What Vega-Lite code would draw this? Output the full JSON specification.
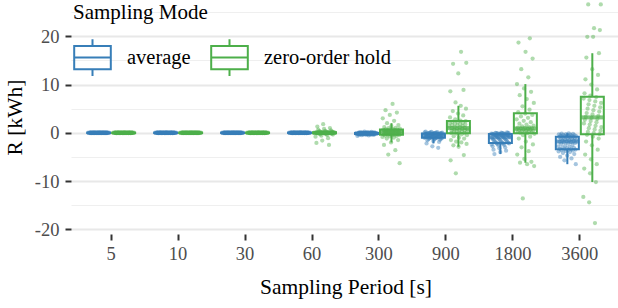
{
"$schema": "https://vega.github.io/schema/vega-lite/v6.json",
"width": 549, "height": 234,
"autosize": {"type": "none"},
"padding": {"left": 71, "top": 0, "right": 0, "bottom": 74},
"background": "white",
"config": {"font": "'Liberation Serif', 'Times New Roman', 'DejaVu Serif', serif", "view": {"stroke": null},
  "legend": {"titleFont": "'Liberation Serif', 'Times New Roman', serif", "labelFont": "'Liberation Serif', 'Times New Roman', serif"},
  "axis": {"titleFont": "'Liberation Serif', 'Times New Roman', serif", "labelFont": "'Liberation Serif', 'Times New Roman', serif"}},
"data": {"values": [
{"i":0,"p":5,"average":0.03,"zero-order hold":0.02},{"i":1,"p":5,"average":-0.05,"zero-order hold":0.06},{"i":2,"p":5,"average":0.01,"zero-order hold":-0.03},{"i":3,"p":5,"average":0.07,"zero-order hold":0},{"i":4,"p":5,"average":-0.02,"zero-order hold":0.05},{"i":5,"p":5,"average":-0.08,"zero-order hold":-0.07},{"i":6,"p":5,"average":0.04,"zero-order hold":0.01},{"i":7,"p":5,"average":0,"zero-order hold":-0.04},{"i":8,"p":5,"average":-0.04,"zero-order hold":0.08},{"i":9,"p":5,"average":0.06,"zero-order hold":-0.02},
{"i":10,"p":5,"average":-0.01,"zero-order hold":0.04},{"i":11,"p":5,"average":0.02,"zero-order hold":-0.06},{"i":12,"p":5,"average":-0.06,"zero-order hold":0.03},{"i":13,"p":5,"average":0.05,"zero-order hold":-0.01},{"i":14,"p":5,"average":-0.03,"zero-order hold":0.07},{"i":15,"p":5,"average":0.08,"zero-order hold":-0.05},{"i":16,"p":5,"average":-0.07,"zero-order hold":0},{"i":17,"p":5,"average":0.01,"zero-order hold":0.02},{"i":18,"p":5,"average":0.03,"zero-order hold":-0.08},{"i":19,"p":5,"average":-0.02,"zero-order hold":0.05},
{"i":20,"p":5,"average":0.05,"zero-order hold":-0.03},{"i":21,"p":5,"average":-0.04,"zero-order hold":0.06},{"i":22,"p":5,"average":0,"zero-order hold":-0.02},{"i":23,"p":5,"average":0.06,"zero-order hold":0.01},{"i":24,"p":5,"average":-0.06,"zero-order hold":0.04},{"i":25,"p":5,"average":0.02,"zero-order hold":-0.06},{"i":26,"p":5,"average":-0.01,"zero-order hold":0.03},{"i":27,"p":5,"average":0.04,"zero-order hold":-0.04},{"i":28,"p":5,"average":-0.08,"zero-order hold":0.07},{"i":29,"p":5,"average":0.07,"zero-order hold":0},
{"i":30,"p":5,"average":-0.03,"zero-order hold":-0.05},{"i":31,"p":5,"average":0.01,"zero-order hold":0.02},{"i":32,"p":5,"average":0.05,"zero-order hold":-0.01},{"i":33,"p":5,"average":-0.05,"zero-order hold":0.08},{"i":34,"p":5,"average":0.03,"zero-order hold":-0.07},{"i":35,"p":5,"average":-0.02,"zero-order hold":0.03},{"i":36,"p":5,"average":0.08,"zero-order hold":0.05},{"i":37,"p":5,"average":-0.07,"zero-order hold":-0.02},{"i":38,"p":5,"average":0,"zero-order hold":0.01},{"i":39,"p":5,"average":0.02,"zero-order hold":-0.06},
{"i":40,"p":5,"average":-0.04,"zero-order hold":0.04},{"i":41,"p":5,"average":0.06,"zero-order hold":-0.03},{"i":42,"p":5,"average":-0.01,"zero-order hold":0.06},{"i":43,"p":5,"average":0.04,"zero-order hold":0},{"i":44,"p":5,"average":-0.06,"zero-order hold":-0.04},{"i":45,"p":5,"average":0.03,"zero-order hold":0.02},{"i":46,"p":5,"average":-0.03,"zero-order hold":-0.08},{"i":47,"p":5,"average":0.07,"zero-order hold":0.07},{"i":48,"p":5,"average":-0.05,"zero-order hold":-0.01},{"i":49,"p":5,"average":0.01,"zero-order hold":0.05},
{"i":50,"p":5,"average":0.05,"zero-order hold":0.03},{"i":51,"p":5,"average":-0.08,"zero-order hold":-0.05},{"i":52,"p":5,"average":0.02,"zero-order hold":0.01},{"i":53,"p":5,"average":-0.02,"zero-order hold":-0.07},{"i":54,"p":5,"average":0.06,"zero-order hold":0.04},{"i":55,"p":5,"average":0,"zero-order hold":-0.02},{"i":56,"p":5,"average":-0.07,"zero-order hold":0.06},{"i":57,"p":5,"average":0.04,"zero-order hold":0},{"i":58,"p":5,"average":-0.01,"zero-order hold":-0.03},{"i":59,"p":5,"average":0.03,"zero-order hold":0.02},

{"i":0,"p":10,"average":0.02,"zero-order hold":0.03},{"i":1,"p":10,"average":0.06,"zero-order hold":-0.05},{"i":2,"p":10,"average":-0.03,"zero-order hold":0.01},{"i":3,"p":10,"average":0,"zero-order hold":0.07},{"i":4,"p":10,"average":0.05,"zero-order hold":-0.02},{"i":5,"p":10,"average":-0.07,"zero-order hold":-0.08},{"i":6,"p":10,"average":0.01,"zero-order hold":0.04},{"i":7,"p":10,"average":-0.04,"zero-order hold":0},{"i":8,"p":10,"average":0.08,"zero-order hold":-0.04},{"i":9,"p":10,"average":-0.02,"zero-order hold":0.06},
{"i":10,"p":10,"average":0.04,"zero-order hold":-0.01},{"i":11,"p":10,"average":-0.06,"zero-order hold":0.02},{"i":12,"p":10,"average":0.03,"zero-order hold":-0.06},{"i":13,"p":10,"average":-0.01,"zero-order hold":0.05},{"i":14,"p":10,"average":0.07,"zero-order hold":-0.03},{"i":15,"p":10,"average":-0.05,"zero-order hold":0.08},{"i":16,"p":10,"average":0,"zero-order hold":-0.07},{"i":17,"p":10,"average":0.02,"zero-order hold":0.01},{"i":18,"p":10,"average":-0.08,"zero-order hold":0.03},{"i":19,"p":10,"average":0.05,"zero-order hold":-0.02},
{"i":20,"p":10,"average":-0.03,"zero-order hold":0.05},{"i":21,"p":10,"average":0.06,"zero-order hold":-0.04},{"i":22,"p":10,"average":-0.02,"zero-order hold":0},{"i":23,"p":10,"average":0.01,"zero-order hold":0.06},{"i":24,"p":10,"average":0.04,"zero-order hold":-0.06},{"i":25,"p":10,"average":-0.06,"zero-order hold":0.02},{"i":26,"p":10,"average":0.03,"zero-order hold":-0.01},{"i":27,"p":10,"average":-0.04,"zero-order hold":0.04},{"i":28,"p":10,"average":0.07,"zero-order hold":-0.08},{"i":29,"p":10,"average":0,"zero-order hold":0.07},
{"i":30,"p":10,"average":-0.05,"zero-order hold":-0.03},{"i":31,"p":10,"average":0.02,"zero-order hold":0.01},{"i":32,"p":10,"average":-0.01,"zero-order hold":0.05},{"i":33,"p":10,"average":0.08,"zero-order hold":-0.05},{"i":34,"p":10,"average":-0.07,"zero-order hold":0.03},{"i":35,"p":10,"average":0.03,"zero-order hold":-0.02},{"i":36,"p":10,"average":0.05,"zero-order hold":0.08},{"i":37,"p":10,"average":-0.02,"zero-order hold":-0.07},{"i":38,"p":10,"average":0.01,"zero-order hold":0},{"i":39,"p":10,"average":-0.06,"zero-order hold":0.02},
{"i":40,"p":10,"average":0.04,"zero-order hold":-0.04},{"i":41,"p":10,"average":-0.03,"zero-order hold":0.06},{"i":42,"p":10,"average":0.06,"zero-order hold":-0.01},{"i":43,"p":10,"average":0,"zero-order hold":0.04},{"i":44,"p":10,"average":-0.04,"zero-order hold":-0.06},{"i":45,"p":10,"average":0.02,"zero-order hold":0.03},{"i":46,"p":10,"average":-0.08,"zero-order hold":-0.03},{"i":47,"p":10,"average":0.07,"zero-order hold":0.07},{"i":48,"p":10,"average":-0.01,"zero-order hold":-0.05},{"i":49,"p":10,"average":0.05,"zero-order hold":0.01},
{"i":50,"p":10,"average":0.03,"zero-order hold":0.05},{"i":51,"p":10,"average":-0.05,"zero-order hold":-0.08},{"i":52,"p":10,"average":0.01,"zero-order hold":0.02},{"i":53,"p":10,"average":-0.07,"zero-order hold":-0.02},{"i":54,"p":10,"average":0.04,"zero-order hold":0.06},{"i":55,"p":10,"average":-0.02,"zero-order hold":0},{"i":56,"p":10,"average":0.06,"zero-order hold":-0.07},{"i":57,"p":10,"average":0,"zero-order hold":0.04},{"i":58,"p":10,"average":-0.03,"zero-order hold":-0.01},{"i":59,"p":10,"average":0.02,"zero-order hold":0.03},

{"i":0,"p":30,"average":0.03,"zero-order hold":0.02},{"i":1,"p":30,"average":-0.05,"zero-order hold":0.06},{"i":2,"p":30,"average":0.01,"zero-order hold":-0.03},{"i":3,"p":30,"average":0.07,"zero-order hold":0},{"i":4,"p":30,"average":-0.02,"zero-order hold":0.05},{"i":5,"p":30,"average":-0.08,"zero-order hold":-0.07},{"i":6,"p":30,"average":0.04,"zero-order hold":0.01},{"i":7,"p":30,"average":0,"zero-order hold":-0.04},{"i":8,"p":30,"average":-0.04,"zero-order hold":0.08},{"i":9,"p":30,"average":0.06,"zero-order hold":-0.02},
{"i":10,"p":30,"average":-0.01,"zero-order hold":0.04},{"i":11,"p":30,"average":0.02,"zero-order hold":-0.06},{"i":12,"p":30,"average":-0.06,"zero-order hold":0.03},{"i":13,"p":30,"average":0.05,"zero-order hold":-0.01},{"i":14,"p":30,"average":-0.03,"zero-order hold":0.07},{"i":15,"p":30,"average":0.08,"zero-order hold":-0.05},{"i":16,"p":30,"average":-0.07,"zero-order hold":0},{"i":17,"p":30,"average":0.01,"zero-order hold":0.02},{"i":18,"p":30,"average":0.03,"zero-order hold":-0.08},{"i":19,"p":30,"average":-0.02,"zero-order hold":0.05},
{"i":20,"p":30,"average":0.05,"zero-order hold":-0.03},{"i":21,"p":30,"average":-0.04,"zero-order hold":0.06},{"i":22,"p":30,"average":0,"zero-order hold":-0.02},{"i":23,"p":30,"average":0.06,"zero-order hold":0.01},{"i":24,"p":30,"average":-0.06,"zero-order hold":0.04},{"i":25,"p":30,"average":0.02,"zero-order hold":-0.06},{"i":26,"p":30,"average":-0.01,"zero-order hold":0.03},{"i":27,"p":30,"average":0.04,"zero-order hold":-0.04},{"i":28,"p":30,"average":-0.08,"zero-order hold":0.07},{"i":29,"p":30,"average":0.07,"zero-order hold":0},
{"i":30,"p":30,"average":-0.03,"zero-order hold":-0.05},{"i":31,"p":30,"average":0.01,"zero-order hold":0.02},{"i":32,"p":30,"average":0.05,"zero-order hold":-0.01},{"i":33,"p":30,"average":-0.05,"zero-order hold":0.08},{"i":34,"p":30,"average":0.03,"zero-order hold":-0.07},{"i":35,"p":30,"average":-0.02,"zero-order hold":0.03},{"i":36,"p":30,"average":0.08,"zero-order hold":0.05},{"i":37,"p":30,"average":-0.07,"zero-order hold":-0.02},{"i":38,"p":30,"average":0,"zero-order hold":0.01},{"i":39,"p":30,"average":0.02,"zero-order hold":-0.06},
{"i":40,"p":30,"average":-0.04,"zero-order hold":0.04},{"i":41,"p":30,"average":0.06,"zero-order hold":-0.03},{"i":42,"p":30,"average":-0.01,"zero-order hold":0.06},{"i":43,"p":30,"average":0.04,"zero-order hold":0},{"i":44,"p":30,"average":-0.06,"zero-order hold":-0.04},{"i":45,"p":30,"average":0.03,"zero-order hold":0.02},{"i":46,"p":30,"average":-0.03,"zero-order hold":-0.08},{"i":47,"p":30,"average":0.07,"zero-order hold":0.07},{"i":48,"p":30,"average":-0.05,"zero-order hold":-0.01},{"i":49,"p":30,"average":0.01,"zero-order hold":0.05},
{"i":50,"p":30,"average":0.05,"zero-order hold":0.03},{"i":51,"p":30,"average":-0.08,"zero-order hold":-0.05},{"i":52,"p":30,"average":0.02,"zero-order hold":0.01},{"i":53,"p":30,"average":-0.02,"zero-order hold":-0.07},{"i":54,"p":30,"average":0.06,"zero-order hold":0.04},{"i":55,"p":30,"average":0,"zero-order hold":-0.02},{"i":56,"p":30,"average":-0.07,"zero-order hold":0.06},{"i":57,"p":30,"average":0.04,"zero-order hold":0},{"i":58,"p":30,"average":-0.01,"zero-order hold":-0.03},{"i":59,"p":30,"average":0.03,"zero-order hold":0.02},

{"i":0,"p":60,"average":0.02,"zero-order hold":-0.8},{"i":1,"p":60,"average":0.06,"zero-order hold":-0.02},{"i":2,"p":60,"average":-0.03,"zero-order hold":0.1},{"i":3,"p":60,"average":0,"zero-order hold":-2.1},{"i":4,"p":60,"average":0.05,"zero-order hold":-0.04},{"i":5,"p":60,"average":-0.07,"zero-order hold":0.07},{"i":6,"p":60,"average":0.01,"zero-order hold":1.3},{"i":7,"p":60,"average":-0.04,"zero-order hold":-0.07},{"i":8,"p":60,"average":0.08,"zero-order hold":0.04},{"i":9,"p":60,"average":-0.02,"zero-order hold":0.65},
{"i":10,"p":60,"average":0.04,"zero-order hold":-0.1},{"i":11,"p":60,"average":-0.06,"zero-order hold":0.02},{"i":12,"p":60,"average":0.03,"zero-order hold":0.35},{"i":13,"p":60,"average":-0.01,"zero-order hold":-0.18},{"i":14,"p":60,"average":0.07,"zero-order hold":0.01},{"i":15,"p":60,"average":-0.05,"zero-order hold":0.23},{"i":16,"p":60,"average":0,"zero-order hold":-0.3},{"i":17,"p":60,"average":0.02,"zero-order hold":0},{"i":18,"p":60,"average":-0.08,"zero-order hold":0.16},{"i":19,"p":60,"average":0.05,"zero-order hold":-0.6},
{"i":20,"p":60,"average":-0.03,"zero-order hold":-0.02},{"i":21,"p":60,"average":0.06,"zero-order hold":0.11},{"i":22,"p":60,"average":-0.02,"zero-order hold":-1.6},{"i":23,"p":60,"average":0.01,"zero-order hold":-0.03},{"i":24,"p":60,"average":0.04,"zero-order hold":0.08},{"i":25,"p":60,"average":-0.06,"zero-order hold":1.8},{"i":26,"p":60,"average":0.03,"zero-order hold":-0.06},{"i":27,"p":60,"average":-0.04,"zero-order hold":0.05},{"i":28,"p":60,"average":0.07,"zero-order hold":0.8},{"i":29,"p":60,"average":0,"zero-order hold":-0.09},
{"i":30,"p":60,"average":-0.05,"zero-order hold":0.03},{"i":31,"p":60,"average":0.02,"zero-order hold":0.4},{"i":32,"p":60,"average":-0.01,"zero-order hold":-0.15},{"i":33,"p":60,"average":0.08,"zero-order hold":0.01},{"i":34,"p":60,"average":-0.07,"zero-order hold":0.26},{"i":35,"p":60,"average":0.03,"zero-order hold":-0.25},{"i":36,"p":60,"average":0.05,"zero-order hold":0},{"i":37,"p":60,"average":-0.02,"zero-order hold":0.18},{"i":38,"p":60,"average":0.01,"zero-order hold":-0.45},{"i":39,"p":60,"average":-0.06,"zero-order hold":-0.01},
{"i":40,"p":60,"average":0.04,"zero-order hold":0.12},{"i":41,"p":60,"average":-0.03,"zero-order hold":-1.1},{"i":42,"p":60,"average":0.06,"zero-order hold":-0.03},{"i":43,"p":60,"average":0,"zero-order hold":0.09},{"i":44,"p":60,"average":-0.04,"zero-order hold":-2.5},{"i":45,"p":60,"average":0.02,"zero-order hold":-0.05},{"i":46,"p":60,"average":-0.08,"zero-order hold":0.06},{"i":47,"p":60,"average":0.07,"zero-order hold":1.0},{"i":48,"p":60,"average":-0.01,"zero-order hold":-0.08},{"i":49,"p":60,"average":0.05,"zero-order hold":0.03},
{"i":50,"p":60,"average":0.03,"zero-order hold":0.5},{"i":51,"p":60,"average":-0.05,"zero-order hold":-0.12},{"i":52,"p":60,"average":0.01,"zero-order hold":0.02},{"i":53,"p":60,"average":-0.07,"zero-order hold":0.3},{"i":54,"p":60,"average":0.04,"zero-order hold":-0.2},{"i":55,"p":60,"average":-0.02,"zero-order hold":0},{"i":56,"p":60,"average":0.06,"zero-order hold":0.2},{"i":57,"p":60,"average":0,"zero-order hold":-0.35},{"i":58,"p":60,"average":-0.03,"zero-order hold":-0.01},{"i":59,"p":60,"average":0.02,"zero-order hold":0.14},

{"i":0,"p":300,"average":-0.65,"zero-order hold":-0.85},{"i":1,"p":300,"average":-0.27,"zero-order hold":3.0},{"i":2,"p":300,"average":-0.15,"zero-order hold":0.63},{"i":3,"p":300,"average":-0.05,"zero-order hold":0.12},{"i":4,"p":300,"average":0.06,"zero-order hold":-0.35},{"i":5,"p":300,"average":-0.4,"zero-order hold":-2.5},{"i":6,"p":300,"average":-0.22,"zero-order hold":1.2},{"i":7,"p":300,"average":-0.13,"zero-order hold":0.44},{"i":8,"p":300,"average":-0.02,"zero-order hold":-0.03},{"i":9,"p":300,"average":0.16,"zero-order hold":-0.58},
{"i":10,"p":300,"average":-0.3,"zero-order hold":4.7},{"i":11,"p":300,"average":-0.17,"zero-order hold":0.72},{"i":12,"p":300,"average":-0.08,"zero-order hold":0.24},{"i":13,"p":300,"average":0.03,"zero-order hold":-0.23},{"i":14,"p":300,"average":-0.5,"zero-order hold":-1.2},{"i":15,"p":300,"average":-0.25,"zero-order hold":2.0},{"i":16,"p":300,"average":-0.14,"zero-order hold":0.56},{"i":17,"p":300,"average":-0.04,"zero-order hold":0.06},{"i":18,"p":300,"average":0.1,"zero-order hold":-0.41},{"i":19,"p":300,"average":-0.35,"zero-order hold":-4.5},
{"i":20,"p":300,"average":-0.2,"zero-order hold":0.95},{"i":21,"p":300,"average":-0.11,"zero-order hold":0.36},{"i":22,"p":300,"average":0,"zero-order hold":-0.11},{"i":23,"p":300,"average":0.25,"zero-order hold":-0.75},{"i":24,"p":300,"average":-0.28,"zero-order hold":3.7},{"i":25,"p":300,"average":-0.16,"zero-order hold":0.66},{"i":26,"p":300,"average":-0.06,"zero-order hold":0.16},{"i":27,"p":300,"average":0.05,"zero-order hold":-0.31},{"i":28,"p":300,"average":-0.42,"zero-order hold":-2.0},{"i":29,"p":300,"average":-0.23,"zero-order hold":1.4},
{"i":30,"p":300,"average":-0.13,"zero-order hold":0.48},{"i":31,"p":300,"average":-0.03,"zero-order hold":0},{"i":32,"p":300,"average":0.14,"zero-order hold":-0.5},{"i":33,"p":300,"average":-0.31,"zero-order hold":6.0},{"i":34,"p":300,"average":-0.18,"zero-order hold":0.78},{"i":35,"p":300,"average":-0.09,"zero-order hold":0.28},{"i":36,"p":300,"average":0.02,"zero-order hold":-0.19},{"i":37,"p":300,"average":-0.55,"zero-order hold":-1.0},{"i":38,"p":300,"average":-0.26,"zero-order hold":2.5},{"i":39,"p":300,"average":-0.15,"zero-order hold":0.6},
{"i":40,"p":300,"average":-0.05,"zero-order hold":0.09},{"i":41,"p":300,"average":0.08,"zero-order hold":-0.39},{"i":42,"p":300,"average":-0.38,"zero-order hold":-3.6},{"i":43,"p":300,"average":-0.21,"zero-order hold":1.05},{"i":44,"p":300,"average":-0.12,"zero-order hold":0.4},{"i":45,"p":300,"average":-0.01,"zero-order hold":-0.07},{"i":46,"p":300,"average":0.2,"zero-order hold":-0.65},{"i":47,"p":300,"average":-0.29,"zero-order hold":4.2},{"i":48,"p":300,"average":-0.16,"zero-order hold":0.69},{"i":49,"p":300,"average":-0.07,"zero-order hold":0.2},
{"i":50,"p":300,"average":0.04,"zero-order hold":-0.27},{"i":51,"p":300,"average":-0.45,"zero-order hold":-1.5},{"i":52,"p":300,"average":-0.24,"zero-order hold":1.6},{"i":53,"p":300,"average":-0.14,"zero-order hold":0.52},{"i":54,"p":300,"average":-0.04,"zero-order hold":0.03},{"i":55,"p":300,"average":0.12,"zero-order hold":-0.45},{"i":56,"p":300,"average":-0.33,"zero-order hold":-6.3},{"i":57,"p":300,"average":-0.19,"zero-order hold":0.85},{"i":58,"p":300,"average":-0.1,"zero-order hold":0.32},{"i":59,"p":300,"average":0.01,"zero-order hold":-0.15},

{"i":0,"p":900,"average":-1.04,"zero-order hold":1.3},{"i":1,"p":900,"average":0.1,"zero-order hold":2.0},{"i":2,"p":900,"average":-0.32,"zero-order hold":3.2},{"i":3,"p":900,"average":-0.94,"zero-order hold":8.6},{"i":4,"p":900,"average":0.25,"zero-order hold":-5.7},{"i":5,"p":900,"average":-0.24,"zero-order hold":-1.5},{"i":6,"p":900,"average":-0.84,"zero-order hold":-0.05},{"i":7,"p":900,"average":-2.2,"zero-order hold":0.47},{"i":8,"p":900,"average":-0.18,"zero-order hold":0.92},{"i":9,"p":900,"average":-0.74,"zero-order hold":1.6},
{"i":10,"p":900,"average":-1.55,"zero-order hold":2.3},{"i":11,"p":900,"average":-0.12,"zero-order hold":4.5},{"i":12,"p":900,"average":-0.64,"zero-order hold":14.3},{"i":13,"p":900,"average":-1.3,"zero-order hold":-2.6},{"i":14,"p":900,"average":-0.06,"zero-order hold":-0.7},{"i":15,"p":900,"average":-0.54,"zero-order hold":0.16},{"i":16,"p":900,"average":-1.15,"zero-order hold":0.66},{"i":17,"p":900,"average":0,"zero-order hold":1.2},{"i":18,"p":900,"average":-0.44,"zero-order hold":1.9},{"i":19,"p":900,"average":-1.06,"zero-order hold":2.8},
{"i":20,"p":900,"average":0.08,"zero-order hold":6.3},{"i":21,"p":900,"average":-0.35,"zero-order hold":-8.4},{"i":22,"p":900,"average":-0.97,"zero-order hold":-1.8},{"i":23,"p":900,"average":0.18,"zero-order hold":-0.15},{"i":24,"p":900,"average":-0.26,"zero-order hold":0.4},{"i":25,"p":900,"average":-0.87,"zero-order hold":0.84},{"i":26,"p":900,"average":-2.8,"zero-order hold":1.5},{"i":27,"p":900,"average":-0.2,"zero-order hold":2.2},{"i":28,"p":900,"average":-0.77,"zero-order hold":4.0},{"i":29,"p":900,"average":-1.7,"zero-order hold":12.3},
{"i":30,"p":900,"average":-0.14,"zero-order hold":-2.9},{"i":31,"p":900,"average":-0.67,"zero-order hold":-1.0},{"i":32,"p":900,"average":-1.35,"zero-order hold":0.08},{"i":33,"p":900,"average":-0.08,"zero-order hold":0.6},{"i":34,"p":900,"average":-0.57,"zero-order hold":1.12},{"i":35,"p":900,"average":-1.2,"zero-order hold":1.8},{"i":36,"p":900,"average":-0.02,"zero-order hold":2.55},{"i":37,"p":900,"average":-0.47,"zero-order hold":5.6},{"i":38,"p":900,"average":-1.09,"zero-order hold":16.8},{"i":39,"p":900,"average":0.05,"zero-order hold":-2.0},
{"i":40,"p":900,"average":-0.38,"zero-order hold":-0.3},{"i":41,"p":900,"average":-1.0,"zero-order hold":0.32},{"i":42,"p":900,"average":0.14,"zero-order hold":0.78},{"i":43,"p":900,"average":-0.29,"zero-order hold":1.4},{"i":44,"p":900,"average":-0.9,"zero-order hold":2.1},{"i":45,"p":900,"average":-3.1,"zero-order hold":3.6},{"i":46,"p":900,"average":-0.22,"zero-order hold":8.9},{"i":47,"p":900,"average":-0.8,"zero-order hold":-4.6},{"i":48,"p":900,"average":-1.9,"zero-order hold":-1.2},{"i":49,"p":900,"average":-0.16,"zero-order hold":0},
{"i":50,"p":900,"average":-0.7,"zero-order hold":0.54},{"i":51,"p":900,"average":-1.45,"zero-order hold":1.05},{"i":52,"p":900,"average":-0.1,"zero-order hold":1.7},{"i":53,"p":900,"average":-0.6,"zero-order hold":2.4},{"i":54,"p":900,"average":-1.25,"zero-order hold":5.0},{"i":55,"p":900,"average":-0.04,"zero-order hold":14.5},{"i":56,"p":900,"average":-0.5,"zero-order hold":-2.3},{"i":57,"p":900,"average":-1.12,"zero-order hold":-0.5},{"i":58,"p":900,"average":0.02,"zero-order hold":0.24},{"i":59,"p":900,"average":-0.41,"zero-order hold":0.72},

{"i":0,"p":1800,"average":-0.15,"zero-order hold":0.74},{"i":1,"p":1800,"average":-2.4,"zero-order hold":2.8},{"i":2,"p":1800,"average":-1.04,"zero-order hold":10.1},{"i":3,"p":1800,"average":-0.21,"zero-order hold":-4.5},{"i":4,"p":1800,"average":-2.8,"zero-order hold":0.21},{"i":5,"p":1800,"average":-1.28,"zero-order hold":1.1},{"i":6,"p":1800,"average":-0.27,"zero-order hold":4.3},{"i":7,"p":1800,"average":-3.5,"zero-order hold":18.7},{"i":8,"p":1800,"average":-1.52,"zero-order hold":-1.2},{"i":9,"p":1800,"average":-0.36,"zero-order hold":0.56},
{"i":10,"p":1800,"average":-4.4,"zero-order hold":1.9},{"i":11,"p":1800,"average":-1.76,"zero-order hold":7.8},{"i":12,"p":1800,"average":-0.48,"zero-order hold":-6.2},{"i":13,"p":1800,"average":0,"zero-order hold":0},{"i":14,"p":1800,"average":-2.0,"zero-order hold":0.86},{"i":15,"p":1800,"average":-0.6,"zero-order hold":3.4},{"i":16,"p":1800,"average":-0.07,"zero-order hold":13.2},{"i":17,"p":1800,"average":-2.15,"zero-order hold":-3.0},{"i":18,"p":1800,"average":-0.76,"zero-order hold":0.35},{"i":19,"p":1800,"average":-0.13,"zero-order hold":1.35},
{"i":20,"p":1800,"average":-2.3,"zero-order hold":5.5},{"i":21,"p":1800,"average":-0.96,"zero-order hold":-13.6},{"i":22,"p":1800,"average":-0.19,"zero-order hold":-0.5},{"i":23,"p":1800,"average":-2.65,"zero-order hold":0.68},{"i":24,"p":1800,"average":-1.2,"zero-order hold":2.5},{"i":25,"p":1800,"average":-0.25,"zero-order hold":9.2},{"i":26,"p":1800,"average":-3.2,"zero-order hold":-5.4},{"i":27,"p":1800,"average":-1.44,"zero-order hold":0.14},{"i":28,"p":1800,"average":-0.33,"zero-order hold":1.02},{"i":29,"p":1800,"average":-4.0,"zero-order hold":4.0},
{"i":30,"p":1800,"average":-1.68,"zero-order hold":16.8},{"i":31,"p":1800,"average":-0.44,"zero-order hold":-1.8},{"i":32,"p":1800,"average":0.04,"zero-order hold":0.49},{"i":33,"p":1800,"average":-1.92,"zero-order hold":1.7},{"i":34,"p":1800,"average":-0.56,"zero-order hold":7.0},{"i":35,"p":1800,"average":-0.05,"zero-order hold":-6.5},{"i":36,"p":1800,"average":-2.1,"zero-order hold":-0.07},{"i":37,"p":1800,"average":-0.7,"zero-order hold":0.8},{"i":38,"p":1800,"average":-0.11,"zero-order hold":3.1},{"i":39,"p":1800,"average":-2.25,"zero-order hold":11.5},
{"i":40,"p":1800,"average":-0.88,"zero-order hold":-3.8},{"i":41,"p":1800,"average":-0.17,"zero-order hold":0.28},{"i":42,"p":1800,"average":-2.5,"zero-order hold":1.2},{"i":43,"p":1800,"average":-1.12,"zero-order hold":4.8},{"i":44,"p":1800,"average":-0.23,"zero-order hold":19.6},{"i":45,"p":1800,"average":-3.0,"zero-order hold":-0.8},{"i":46,"p":1800,"average":-1.36,"zero-order hold":0.62},{"i":47,"p":1800,"average":-0.3,"zero-order hold":2.2},{"i":48,"p":1800,"average":-3.7,"zero-order hold":8.5},{"i":49,"p":1800,"average":-1.6,"zero-order hold":-6.0},
{"i":50,"p":1800,"average":-0.4,"zero-order hold":0.07},{"i":51,"p":1800,"average":0.1,"zero-order hold":0.94},{"i":52,"p":1800,"average":-1.84,"zero-order hold":3.7},{"i":53,"p":1800,"average":-0.52,"zero-order hold":15.4},{"i":54,"p":1800,"average":-0.03,"zero-order hold":-2.4},{"i":55,"p":1800,"average":-2.08,"zero-order hold":0.42},{"i":56,"p":1800,"average":-0.64,"zero-order hold":1.5},{"i":57,"p":1800,"average":-0.09,"zero-order hold":6.2},{"i":58,"p":1800,"average":-2.2,"zero-order hold":-6.9},{"i":59,"p":1800,"average":-0.82,"zero-order hold":-0.2},

{"i":0,"p":3600,"average":-2.8,"zero-order hold":-13.3},{"i":1,"p":3600,"average":-3.85,"zero-order hold":7.1},{"i":2,"p":3600,"average":-0.3,"zero-order hold":1.95},{"i":3,"p":3600,"average":-0.9,"zero-order hold":-7.4},{"i":4,"p":3600,"average":-1.85,"zero-order hold":8.2},{"i":5,"p":3600,"average":-3.3,"zero-order hold":2.7},{"i":6,"p":3600,"average":-5.0,"zero-order hold":-4.5},{"i":7,"p":3600,"average":-0.55,"zero-order hold":11.1},{"i":8,"p":3600,"average":-1.22,"zero-order hold":3.3},{"i":9,"p":3600,"average":-2.3,"zero-order hold":-1.8},
{"i":10,"p":3600,"average":-3.58,"zero-order hold":15.6},{"i":11,"p":3600,"average":-0.15,"zero-order hold":4.1},{"i":12,"p":3600,"average":-0.78,"zero-order hold":-0.4},{"i":13,"p":3600,"average":-1.6,"zero-order hold":19.9},{"i":14,"p":3600,"average":-3.0,"zero-order hold":5.0},{"i":15,"p":3600,"average":-4.2,"zero-order hold":0.2},{"i":16,"p":3600,"average":-0.4,"zero-order hold":26.6},{"i":17,"p":3600,"average":-1.02,"zero-order hold":5.9},{"i":18,"p":3600,"average":-2.0,"zero-order hold":0.95},{"i":19,"p":3600,"average":-3.42,"zero-order hold":-14.4},
{"i":20,"p":3600,"average":-5.7,"zero-order hold":6.8},{"i":21,"p":3600,"average":-0.65,"zero-order hold":1.7},{"i":22,"p":3600,"average":-1.38,"zero-order hold":-8.4},{"i":23,"p":3600,"average":-2.7,"zero-order hold":7.7},{"i":24,"p":3600,"average":-3.75,"zero-order hold":2.45},{"i":25,"p":3600,"average":-0.25,"zero-order hold":-5.5},{"i":26,"p":3600,"average":-0.86,"zero-order hold":10.0},{"i":27,"p":3600,"average":-1.75,"zero-order hold":3.1},{"i":28,"p":3600,"average":-3.2,"zero-order hold":-2.6},{"i":29,"p":3600,"average":-4.7,"zero-order hold":13.2},
{"i":30,"p":3600,"average":-0.5,"zero-order hold":3.8},{"i":31,"p":3600,"average":-1.15,"zero-order hold":-0.8},{"i":32,"p":3600,"average":-2.2,"zero-order hold":19.9},{"i":33,"p":3600,"average":-3.52,"zero-order hold":4.7},{"i":34,"p":3600,"average":-0.1,"zero-order hold":-0.05},{"i":35,"p":3600,"average":-0.74,"zero-order hold":21.7},{"i":36,"p":3600,"average":-1.52,"zero-order hold":5.6},{"i":37,"p":3600,"average":-2.9,"zero-order hold":0.7},{"i":38,"p":3600,"average":-4.0,"zero-order hold":-18.7},{"i":39,"p":3600,"average":-0.35,"zero-order hold":6.5},
{"i":40,"p":3600,"average":-0.96,"zero-order hold":1.45},{"i":41,"p":3600,"average":-1.92,"zero-order hold":-10.2},{"i":42,"p":3600,"average":-3.38,"zero-order hold":7.4},{"i":43,"p":3600,"average":-5.3,"zero-order hold":2.2},{"i":44,"p":3600,"average":-0.6,"zero-order hold":-6.5},{"i":45,"p":3600,"average":-1.3,"zero-order hold":9.0},{"i":46,"p":3600,"average":-2.5,"zero-order hold":2.9},{"i":47,"p":3600,"average":-3.65,"zero-order hold":-3.5},{"i":48,"p":3600,"average":-0.2,"zero-order hold":12.0},{"i":49,"p":3600,"average":-0.82,"zero-order hold":3.5},
{"i":50,"p":3600,"average":-1.68,"zero-order hold":-1.2},{"i":51,"p":3600,"average":-3.1,"zero-order hold":16.5},{"i":52,"p":3600,"average":-4.4,"zero-order hold":4.4},{"i":53,"p":3600,"average":-0.45,"zero-order hold":-0.25},{"i":54,"p":3600,"average":-1.08,"zero-order hold":21.3},{"i":55,"p":3600,"average":-2.1,"zero-order hold":5.3},{"i":56,"p":3600,"average":-3.46,"zero-order hold":0.45},{"i":57,"p":3600,"average":-6.5,"zero-order hold":26.6},{"i":58,"p":3600,"average":-0.7,"zero-order hold":6.2},{"i":59,"p":3600,"average":-1.45,"zero-order hold":1.2}
]},
"transform": [{"fold": ["average", "zero-order hold"], "as": ["mode", "R"]}],
"encoding": {
  "x": {"field": "p", "type": "ordinal", "scale": {"paddingInner": 0, "paddingOuter": 0.1}, "title": "Sampling Period [s]",
    "axis": {"labelAngle": 0, "labelFontSize": 18.5, "labelColor": "#4d4d4d", "labelPadding": 4, "ticks": true, "tickSize": 6, "tickWidth": 2, "tickColor": "#333333", "domain": false, "grid": false, "titleFontSize": 21.5, "titleFontWeight": "normal", "titleColor": "black", "titlePadding": 14}},
  "y": {"field": "R", "type": "quantitative", "scale": {"domain": [-20.97, 27.53], "nice": false, "zero": false}, "title": "R [kWh]",
    "axis": {"values": [-20, -15, -10, -5, 0, 5, 10, 15, 20, 25],
      "labelExpr": "datum.value % 10 === 0 ? replace(datum.label, '\u2212', '-') : ''",
      "labelFontSize": 18.5, "labelColor": "#4d4d4d", "labelPadding": 6,
      "tickSize": 6, "tickWidth": 2,
      "tickColor": {"condition": {"test": "datum.value % 10 === 0", "value": "#333333"}, "value": "transparent"},
      "domain": false, "grid": true,
      "gridColor": {"condition": {"test": "datum.value % 10 === 0", "value": "#e8e8e8"}, "value": "#efefef"},
      "gridWidth": {"condition": {"test": "datum.value % 10 === 0", "value": 2}, "value": 1},
      "titleFontSize": 21.5, "titleFontWeight": "normal", "titleColor": "black", "titlePadding": 8}}
},
"layer": [
  {"transform": [{"filter": "datum.mode === 'average'"}],
   "mark": {"type": "circle", "size": 18, "opacity": 0.45, "color": "#377eb8"},
   "encoding": {"xOffset": {"field": "i", "type": "nominal", "scale": {"type": "band", "paddingInner": 0, "paddingOuter": 0, "range": [11.8, 30.2]}}}},
  {"transform": [{"filter": "datum.mode === 'zero-order hold'"}],
   "mark": {"type": "circle", "size": 18, "opacity": 0.45, "color": "#4daf4a"},
   "encoding": {"xOffset": {"field": "i", "type": "nominal", "scale": {"type": "band", "paddingInner": 0, "paddingOuter": 0, "range": [36.8, 55.2]}}}},
  {"transform": [{"filter": "datum.mode === 'average'"}],
   "mark": {"type": "boxplot", "extent": 1.5, "size": 23, "outliers": false,
     "box": {"filled": false, "strokeWidth": 2},
     "rule": {"strokeWidth": 2, "color": "#377eb8"},
     "median": {"thickness": 3, "color": "#377eb8"}},
   "encoding": {
     "xOffset": {"field": "mode", "type": "nominal", "scale": {"domain": ["average", "zero-order hold"], "paddingInner": 0, "paddingOuter": 0.34}},
     "stroke": {"field": "mode", "type": "nominal", "scale": {"domain": ["average", "zero-order hold"], "range": ["#377eb8", "#4daf4a"]},
       "legend": {"orient": "none", "legendX": 2, "legendY": 2, "direction": "horizontal", "title": "Sampling Mode",
         "titleFontSize": 21, "titleFontWeight": "normal", "titleColor": "black", "titlePadding": 15,
         "labelFontSize": 20.5, "labelColor": "black", "labelOffset": 15, "columnPadding": 16,
         "symbolType": "M-1,-0.64H1V0.64H-1Z M-1,0H1 M0,-0.64V-1 M0,0.64V1", "symbolSize": 1340, "symbolStrokeWidth": 2,
         "symbolFillColor": "transparent", "padding": 0}}}},
  {"transform": [{"filter": "datum.mode === 'zero-order hold'"}],
   "mark": {"type": "boxplot", "extent": 1.5, "size": 23, "outliers": false,
     "box": {"filled": false, "strokeWidth": 2},
     "rule": {"strokeWidth": 2, "color": "#4daf4a"},
     "median": {"thickness": 3, "color": "#4daf4a"}},
   "encoding": {
     "xOffset": {"field": "mode", "type": "nominal", "scale": {"domain": ["average", "zero-order hold"], "paddingInner": 0, "paddingOuter": 0.34}},
     "stroke": {"field": "mode", "type": "nominal"}}}
],
"resolve": {"scale": {"xOffset": "independent"}}
}
